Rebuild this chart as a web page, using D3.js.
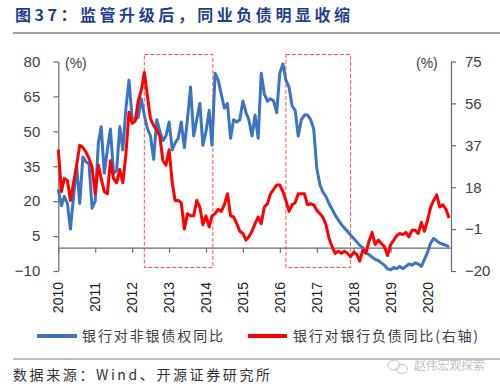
<!DOCTYPE html>
<html>
<head>
<meta charset="utf-8">
<script src="https://cdn.jsdelivr.net/npm/d3@7"></script>
<style>
  body { margin: 0; background: #fff; }
  svg { display: block; }
</style>
</head>
<body>
<div class="chart"></div>
<script>
// monthly series, Jan 2010 .. Aug 2020
let bankNonBank = [
    25, 18, 22, 19, 8, 22, 35, 19, 39, 37,
    36, 17, 20, 45, 52, 32, 42, 51, 32, 33,
    52, 42, 60, 72, 56, 55, 56, 64, 57, 51,
    48, 38, 55, 50, 46, 48, 54, 42, 45, 47,
    54, 43, 55, 69, 48, 55, 62, 44, 50, 59,
    44, 75, 72, 66, 60, 62, 47, 55, 54, 55,
    63, 58, 55, 48, 57, 47, 75, 66, 63, 64,
    63, 58, 75, 79, 72, 69, 61, 59, 48, 55,
    57, 57, 55, 51, 34, 27, 24, 22, 19, 16.5,
    14, 12, 10, 8.5, 7, 5.5, 4, 2.5, 1, 0,
    -2, -3, -4, -5, -5.5, -6.5, -7.5, -9, -9.5, -8.5,
    -9, -8, -9, -8, -7, -7.5, -6.5, -7, -8, -5,
    -2, 2, 4, 3, 2, 1.5, 1, 0.5
];
let bankLiab = [
    35, 16, 22, 21, 12, 20, 28, 37, 36, 34,
    31, 27, 15, 28, 22, 16, 15, 30, 22, 20,
    26, 20, 33, 52, 47, 48, 57, 62, 70, 59,
    49, 46, 44, 41, 30, 28, 35, 20, 12, 12,
    11, -1, 6, 5, 5, 12, 9, 1, 5, 0,
    5, 6, 8, 7, 10, 15, 5, 4.5, 1.5, -2,
    -3, -6, -4.5, -2, 1.5, 4.5, 1.5, 9, 10.5, 15,
    17, 19, 19, 16, 12, 7, 10, 11, 15, 15,
    15, 10, 10.5, 10, 7.5, 6, 4.5, 1, -5, -9,
    -12, -11, -12, -11, -12, -13.5, -11.5, -12.5, -15.5, -10.5,
    -12, -6.5, -2.5, -8, -6, -7.5, -9, -13, -8, -6,
    -4, -3, -3.5, -2.5, -4.5, -1.5, -1.5, -3, 2, -2,
    3, 9, 12, 14.5, 9, 10, 8, 4
];
let leftTicks = [-10, 5, 20, 35, 50, 65, 80];
let rightTicks = [-20, -1, 18, 37, 56, 75];
let years = [2010, 2011, 2012, 2013, 2014, 2015, 2016, 2017, 2018, 2019, 2020];
// the two dashed boxes (start, end)
let boxes = [
    [new Date(2012, 4, 1), new Date(2014, 2, 10)],
    [new Date(2016, 2, 1), new Date(2017, 11, 1)]
];
let seriesNames = ["银行对非银债权同比", "银行对银行负债同比(右轴)"];

let svgWidth = 500;
let svgHeight = 387;
let blue = "#3B74C2";
let red = "#FF0000";
let axisColor = "#6b6b6b";
let textColor = "#404040";
let cjk = "'Noto Sans CJK SC', sans-serif";
let latin = "'Liberation Sans', Arial, sans-serif";

let svg = d3.select(".chart")
    .append("svg")
    .attr("width", svgWidth)
    .attr("height", svgHeight);

svg.append("rect")
    .attr("width", svgWidth)
    .attr("height", svgHeight)
    .attr("fill", "#fff");

// title
svg.append("text")
    .attr("x", 15)
    .attr("y", 21)
    .attr("font-family", cjk)
    .attr("font-weight", "bold")
    .attr("font-size", 16)
    .attr("fill", "#243E8E")
    .attr("textLength", 335)
    .attr("lengthAdjust", "spacing")
    .text("图37：监管升级后，同业负债明显收缩");

svg.append("line")
    .attr("x1", 13).attr("x2", 500)
    .attr("y1", 33).attr("y2", 33)
    .attr("stroke", "#7f7f7f")
    .attr("stroke-width", 1.5);

let dates = bankNonBank.map((d, i) => new Date(2010, i, 1));

let x = d3.scaleTime()
    .domain([new Date(2010, 0, 1), new Date(2020, 7, 20)])
    .range([58.3, 451]);
let yLeft = d3.scaleLinear()
    .domain([-10, 80])
    .range([271, 61.5]);
let yRight = d3.scaleLinear()
    .domain([-20, 75])
    .range([271, 61.5]);

// dashed boxes
svg.append("g")
    .selectAll("rect")
    .data(boxes)
    .enter()
    .append("rect")
    .attr("x", d => x(d[0]))
    .attr("width", d => x(d[1]) - x(d[0]))
    .attr("y", yLeft(83))
    .attr("height", yLeft(-8.5) - yLeft(83))
    .attr("fill", "none")
    .attr("stroke", "#FF5050")
    .attr("stroke-width", 1)
    .attr("stroke-dasharray", "4,2");

// axes
let leftAxis = d3.axisLeft(yLeft)
    .tickValues(leftTicks)
    .tickSize(5)
    .tickSizeOuter(0)
    .tickPadding(13);
let rightAxis = d3.axisRight(yRight)
    .tickValues(rightTicks)
    .tickSize(5)
    .tickSizeOuter(0)
    .tickPadding(9);
let bottomAxis = d3.axisBottom(x)
    .tickValues(years.map(y => new Date(y, 0, 1)))
    .tickSize(5)
    .tickSizeOuter(0)
    .tickFormat("");

let gLeft = svg.append("g")
    .attr("transform", "translate(58.3,0)")
    .call(leftAxis);
let gRight = svg.append("g")
    .attr("transform", "translate(451,0)")
    .call(rightAxis);
let gBottom = svg.append("g")
    .attr("transform", `translate(0,${yLeft(0)})`)
    .call(bottomAxis);

[gLeft, gRight, gBottom].forEach(g => {
    g.selectAll("path, line").attr("stroke", axisColor).attr("stroke-width", 1.2);
    g.selectAll("text")
        .attr("font-family", latin)
        .attr("font-size", 15)
        .attr("fill", textColor);
});

// year labels, rotated
svg.append("g")
    .selectAll("text")
    .data(years)
    .enter()
    .append("text")
    .attr("transform", d => `translate(${x(new Date(d, 0, 1))},282) rotate(-90)`)
    .attr("text-anchor", "end")
    .attr("dy", "0.36em")
    .attr("font-family", latin)
    .attr("font-size", 14)
    .attr("fill", "#222")
    .text(d => d);

// unit labels
svg.append("text")
    .attr("x", 65).attr("y", 68)
    .attr("font-family", latin)
    .attr("font-size", 14)
    .attr("fill", textColor)
    .text("(%)");
svg.append("text")
    .attr("x", 416).attr("y", 68)
    .attr("font-family", latin)
    .attr("font-size", 14)
    .attr("fill", textColor)
    .text("(%)");

// lines
let lineLeft = d3.line()
    .x((d, i) => x(dates[i]))
    .y(d => yLeft(d));
let lineRight = d3.line()
    .x((d, i) => x(dates[i]))
    .y(d => yRight(d));

svg.append("path")
    .datum(bankNonBank)
    .attr("d", lineLeft)
    .attr("fill", "none")
    .attr("stroke", blue)
    .attr("stroke-width", 3)
    .attr("stroke-linejoin", "round");

svg.append("path")
    .datum(bankLiab)
    .attr("d", lineRight)
    .attr("fill", "none")
    .attr("stroke", red)
    .attr("stroke-width", 3)
    .attr("stroke-linejoin", "round");

// legend
let legend = [
    {name: seriesNames[0], color: blue, x1: 37, x2: 77, tx: 82, tl: 141},
    {name: seriesNames[1], color: red, x1: 248, x2: 287, tx: 293, tl: 185}
];
let legendGroup = svg.append("g");
legend.forEach(l => {
    legendGroup.append("line")
        .attr("x1", l.x1).attr("x2", l.x2)
        .attr("y1", 336).attr("y2", 336)
        .attr("stroke", l.color)
        .attr("stroke-width", 4);
    legendGroup.append("text")
        .attr("x", l.tx).attr("y", 341)
        .attr("font-family", cjk)
        .attr("font-size", 14)
        .attr("fill", textColor)
        .attr("textLength", l.tl)
        .attr("lengthAdjust", "spacing")
        .text(l.name);
});

// footer
svg.append("line")
    .attr("x1", 13).attr("x2", 500)
    .attr("y1", 359).attr("y2", 359)
    .attr("stroke", "#7f7f7f")
    .attr("stroke-width", 1.2);

svg.append("text")
    .attr("x", 13).attr("y", 380)
    .attr("font-family", cjk)
    .attr("font-size", 14)
    .attr("fill", "#333")
    .attr("textLength", 257)
    .attr("lengthAdjust", "spacing")
    .text("数据来源：Wind、开源证券研究所");

// watermark
let mark = svg.append("g").attr("fill", "none").attr("stroke", "#c4c4c4");
mark.append("ellipse").attr("cx", 394).attr("cy", 365).attr("rx", 6).attr("ry", 5);
mark.append("ellipse").attr("cx", 402).attr("cy", 369).attr("rx", 5.5).attr("ry", 4.5);
svg.append("text")
    .attr("x", 414).attr("y", 370)
    .attr("font-family", cjk)
    .attr("font-size", 12)
    .attr("fill", "#c0c0c0")
    .attr("textLength", 71)
    .attr("lengthAdjust", "spacing")
    .text("赵伟宏观探索");
</script>
</body>
</html>
